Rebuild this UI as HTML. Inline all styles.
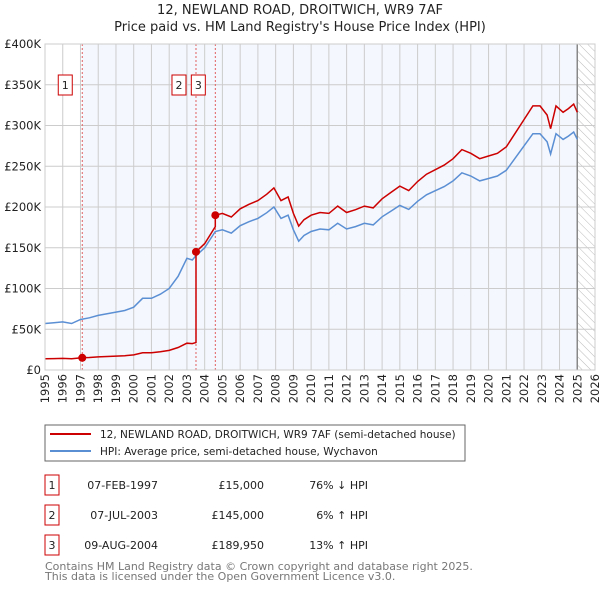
<!DOCTYPE html>
<html><head><meta charset="utf-8"><style>
body{margin:0;background:#fff;font-family:"DejaVu Sans","Liberation Sans",sans-serif;}
svg text{font-family:"DejaVu Sans","Liberation Sans",sans-serif;}
</style></head><body>
<svg id="c" width="600" height="590" xmlns="http://www.w3.org/2000/svg">
<defs><pattern id="hatch" width="6" height="6" patternUnits="userSpaceOnUse" patternTransform="rotate(-45)"><line x1="0" y1="0" x2="0" y2="6" stroke="#bbb" stroke-width="1"/></pattern></defs>
<text x="300" y="14" text-anchor="middle" font-size="13" fill="#222">12, NEWLAND ROAD, DROITWICH, WR9 7AF</text>
<text x="300" y="31" text-anchor="middle" font-size="13" fill="#222">Price paid vs. HM Land Registry's House Price Index (HPI)</text>
<g id="plot"></g>
<rect x="45" y="425" width="420" height="36" fill="#fff" stroke="#666"/>
<line x1="50" y1="434" x2="91" y2="434" stroke="#cc0000" stroke-width="2"/>
<text x="100" y="438" font-size="10.5" fill="#222">12, NEWLAND ROAD, DROITWICH, WR9 7AF (semi-detached house)</text>
<line x1="50" y1="451" x2="91" y2="451" stroke="#5b8fd4" stroke-width="2"/>
<text x="100" y="455" font-size="10.5" fill="#222">HPI: Average price, semi-detached house, Wychavon</text>
<g id="table" font-size="11" fill="#222"></g>
<text x="45" y="570" font-size="11" fill="#777">Contains HM Land Registry data © Crown copyright and database right 2025.</text>
<text x="45" y="580" font-size="11" fill="#777">This data is licensed under the Open Government Licence v3.0.</text>
</svg>
<script>
const hpiYears=[1995,1995.5,1996,1996.5,1997,1997.5,1998,1998.5,1999,1999.5,2000,2000.5,2001,2001.5,2002,2002.5,2003,2003.3,2003.5,2004,2004.6,2005,2005.5,2006,2006.5,2007,2007.5,2007.9,2008.3,2008.7,2009,2009.3,2009.6,2010,2010.5,2011,2011.5,2012,2012.5,2013,2013.5,2014,2014.5,2015,2015.5,2016,2016.5,2017,2017.5,2018,2018.5,2019,2019.5,2020,2020.5,2021,2021.5,2022,2022.5,2022.9,2023.3,2023.5,2023.8,2024.2,2024.5,2024.8,2025];
const hpiValues=[57,58,59,57,62,64,67,69,71,73,77,88,88,93,100,115,137,135,140,150,170,172,168,177,182,186,193,200,186,190,172,158,165,170,173,172,180,173,176,180,178,188,195,202,197,207,215,220,225,232,242,238,232,235,238,245,260,275,290,290,280,265,290,283,287,292,283];
const saleYears=[1997.1,2003.51,2004.6];
const salePrices=[15000,145000,189950];
const saleDates=["07-FEB-1997","07-JUL-2003","09-AUG-2004"];
const salePriceLabels=["£15,000","£145,000","£189,950"];
const saleDiffs=["76% ↓ HPI","6% ↑ HPI","13% ↑ HPI"];
const yTicks=[0,50,100,150,200,250,300,350,400];
const yTickLabels=["£0","£50K","£100K","£150K","£200K","£250K","£300K","£350K","£400K"];
const xTicks=[1995,1996,1997,1998,1999,2000,2001,2002,2003,2004,2005,2006,2007,2008,2009,2010,2011,2012,2013,2014,2015,2016,2017,2018,2019,2020,2021,2022,2023,2024,2025,2026];

const NS="http://www.w3.org/2000/svg";
const X0=45,X1=595,Y0=370,Y1=44;
const xs=y=>X0+(y-1995)/(2026-1995)*(X1-X0);
const ys=v=>Y0-v/400*(Y0-Y1);
const plot=document.getElementById('plot');
function mk(tag,attrs,parent){const e=document.createElementNS(NS,tag);for(const k in attrs)e.setAttribute(k,attrs[k]);(parent||plot).appendChild(e);return e;}
function hpiAt(t){if(t<=hpiYears[0])return hpiValues[0];for(let i=1;i<hpiYears.length;i++){if(t<=hpiYears[i]){const f=(t-hpiYears[i-1])/(hpiYears[i]-hpiYears[i-1]);return hpiValues[i-1]+f*(hpiValues[i]-hpiValues[i-1]);}}return hpiValues[hpiValues.length-1];}

let bg=mk('rect',{x:X0,y:Y1,width:X1-X0,height:Y0-Y1,fill:'#fff'});


let sh=mk('rect',{x:xs(saleYears[0]),y:Y1,width:xs(2025)-xs(saleYears[0]),height:Y0-Y1,fill:'#f4f7fd'});


let ht=mk('rect',{x:xs(2025),y:Y1,width:X1-xs(2025),height:Y0-Y1,fill:'url(#hatch)'});


xTicks.forEach(t=>{
 let g=mk('line',{x1:xs(t),x2:xs(t),y1:Y1,y2:Y0,stroke:'#ccc','stroke-width':1});
 
 
 let l=mk('text',{x:0,y:0,'font-size':11.5,fill:'#222','text-anchor':'end',transform:`translate(${xs(t)+4},${Y0+4}) rotate(-90)`});
 l.textContent=t;
 
 
});
yTicks.forEach((v,i)=>{
 let g=mk('line',{x1:X0,x2:X1,y1:ys(v),y2:ys(v),stroke:'#ccc','stroke-width':1});
 
 
 let l=mk('text',{x:X0-4,y:ys(v)+4,'font-size':11.5,fill:'#222','text-anchor':'end'});
 l.textContent=yTickLabels[i];
 
 
});
let nl=mk('line',{x1:xs(2025),x2:xs(2025),y1:Y1,y2:Y0,stroke:'#888','stroke-width':1.5});


saleYears.forEach((s,i)=>{
 let d=mk('line',{x1:xs(s),x2:xs(s),y1:Y1,y2:Y0,stroke:'#e06060','stroke-width':1,'stroke-dasharray':'2,2'});
 
 
});
let hp=hpiYears.map((t,i)=>`${i?'L':'M'}${xs(t).toFixed(1)},${ys(hpiValues[i]).toFixed(1)}`).join('');
let hl=mk('path',{d:hp,fill:'none',stroke:'#5b8fd4','stroke-width':1.5});


let pts=[];
const times=[...new Set([...hpiYears,...saleYears])].sort((a,b)=>a-b);
times.forEach(t=>{
 let k=0;for(let i=0;i<saleYears.length;i++)if(t>=saleYears[i])k=i;
 if(t===saleYears[k]&&k>0){const prev=salePrices[k-1]/1000*hpiAt(t)/hpiAt(saleYears[k-1]);pts.push([t,prev]);}
 pts.push([t,salePrices[k]/1000*hpiAt(t)/hpiAt(saleYears[k])]);
});
let pp=pts.map((p,i)=>`${i?'L':'M'}${xs(p[0]).toFixed(1)},${ys(p[1]).toFixed(1)}`).join('');
let pl=mk('path',{d:pp,fill:'none',stroke:'#cc0000','stroke-width':1.5});


saleYears.forEach((s,i)=>{
 let c=mk('circle',{cx:xs(s),cy:ys(salePrices[i]/1000),r:4,fill:'#cc0000'});
 
 
 let bx=xs(s)-24;
 let r=mk('rect',{x:bx,y:75,width:14,height:20,fill:'#fff',stroke:'#cc0000'});
 
 
 let t=mk('text',{x:bx+7,y:89,'font-size':11,fill:'#222','text-anchor':'middle'});
 t.textContent=i+1;
 
 
});
let bd=mk('rect',{x:X0,y:Y1,width:X1-X0,height:Y0-Y1,fill:'none',stroke:'#ccc'});


const tb=document.getElementById('table');
saleYears.forEach((s,i)=>{
 const y=475+i*30;
 let r=mk('rect',{x:45,y:y,width:14,height:20,fill:'#fff',stroke:'#cc0000'},tb);
 
 
 let n=mk('text',{x:52,y:y+14,'text-anchor':'middle'},tb);n.textContent=i+1;
 
 
 let d=mk('text',{x:158,y:y+14,'text-anchor':'end'},tb);d.textContent=saleDates[i];
 
 
 let p=mk('text',{x:264,y:y+14,'text-anchor':'end'},tb);p.textContent=salePriceLabels[i];
 
 
 let h=mk('text',{x:368,y:y+14,'text-anchor':'end'},tb);h.textContent=saleDiffs[i];
 
 
});
</script>
</body></html>
